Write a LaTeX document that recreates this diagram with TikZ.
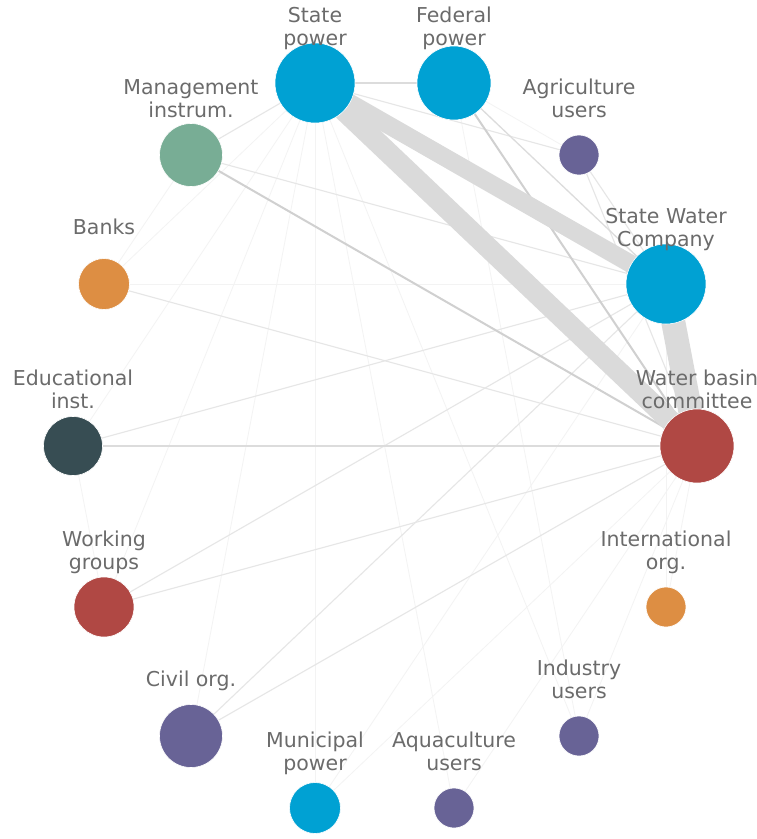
\documentclass[tikz,border=0pt]{standalone}
\usepackage{fontspec}
\setmainfont{DejaVu Sans}
\usetikzlibrary{backgrounds}
\definecolor{cblue}{HTML}{00A1D3}
\definecolor{cgreen}{HTML}{78AD95}
\definecolor{corange}{HTML}{DD8E43}
\definecolor{cdark}{HTML}{374D53}
\definecolor{cred}{HTML}{B04844}
\definecolor{cpurple}{HTML}{686396}
\definecolor{ctext}{HTML}{6B6B6B}
\definecolor{cheavy}{HTML}{DADADA}
\definecolor{cmed}{HTML}{D0D0D0}
\definecolor{cmlight}{HTML}{DCDCDC}
\definecolor{clight}{HTML}{E6E6E6}
\definecolor{cfaint}{HTML}{F3F3F3}
\begin{document}
\begin{tikzpicture}[x=1pt,y=-1pt,
  nd/.style={circle,inner sep=0pt,minimum size=#1,draw=white,line width=0.6pt},
  lbl/.style={text=ctext,font=\fontsize{20.5}{23}\selectfont,align=center,inner sep=0pt},
  heavy/.style={draw=cheavy,line width=#1},
  emed/.style={draw=cmed,line width=2pt},
  emlight/.style={draw=cmlight,line width=1.3pt},
  elight/.style={draw=clight,line width=1.1pt},
  efaint/.style={draw=cfaint,line width=0.8pt}]
\useasboundingbox (0,0) rectangle (756,839);

% nodes
\node[nd=80pt,fill=cblue]   (sp)  at (315,83)  {};
\node[nd=74pt,fill=cblue]   (fp)  at (454,83)  {};
\node[nd=40pt,fill=cpurple] (ag)  at (579,155) {};
\node[nd=80pt,fill=cblue]   (swc) at (666,284) {};
\node[nd=74pt,fill=cred]    (wbc) at (697,446) {};
\node[nd=40pt,fill=corange] (io)  at (666,607) {};
\node[nd=40pt,fill=cpurple] (iu)  at (579,736) {};
\node[nd=40pt,fill=cpurple] (aq)  at (454,808) {};
\node[nd=51pt,fill=cblue]   (mp)  at (315,808) {};
\node[nd=63pt,fill=cpurple] (co)  at (191,736) {};
\node[nd=60pt,fill=cred]    (wg)  at (104,607) {};
\node[nd=59pt,fill=cdark]   (ed)  at (73,446)  {};
\node[nd=51pt,fill=corange] (bk)  at (104,284) {};
\node[nd=63pt,fill=cgreen]  (mi)  at (191,155) {};

% labels
\node[lbl] (spL)  at (315,29)  {\strut State\\\strut power};
\node[lbl] (fpL)  at (454,29)  {\strut Federal\\\strut power};
\node[lbl] (agL)  at (579,101) {\strut Agriculture\\\strut users};
\node[lbl] (swcL) at (666,230) {\strut State Water\\\strut Company};
\node[lbl] (wbcL) at (697,392) {\strut Water basin\\\strut committee};
\node[lbl] (ioL)  at (666,553) {\strut International\\\strut org.};
\node[lbl] (iuL)  at (579,682) {\strut Industry\\\strut users};
\node[lbl] (aqL)  at (454,754) {\strut Aquaculture\\\strut users};
\node[lbl] (mpL)  at (315,754) {\strut Municipal\\\strut power};
\node[lbl] (coL)  at (191,682) {\strut Civil org.};
\node[lbl] (wgL)  at (104,553) {\strut Working\\\strut groups};
\node[lbl] (edL)  at (73,392)  {\strut Educational\\\strut inst.};
\node[lbl] (bkL)  at (104,230) {\strut Banks};
\node[lbl] (miL)  at (191,101) {\strut Management\\\strut instrum.};

\begin{pgfonlayer}{background}
\fill[white] (0,0) rectangle (756,839);
% faint
\foreach \a/\b in {bk/swc,sp/bk,sp/ed,sp/wg,sp/co,sp/mp,sp/iu,sp/aq,ed/wg,mp/wbc,mp/swc,fp/iu,aq/wbc,iu/wbc,io/wbc,io/swc,mi/bk,fp/ag}
  \draw[efaint] (\a.center) -- (\b.center);
% light
\foreach \a/\b in {mi/swc,bk/wbc,ed/swc,wg/wbc,wg/swc,co/wbc,co/swc,mi/sp,sp/ag,ag/wbc,ag/swc}
  \draw[elight] (\a.center) -- (\b.center);
% medium-light
\foreach \a/\b in {fp/swc,sp/fp,ed/wbc}
  \draw[emlight] (\a.center) -- (\b.center);
% medium
\foreach \a/\b in {mi/wbc,fp/wbc}
  \draw[emed] (\a.center) -- (\b.center);
% heavy
\draw[heavy=18pt] (sp.center) -- (swc.center);
\draw[heavy=21pt] (sp.center) -- (wbc.center);
\draw[heavy=24pt] (swc.center) -- (wbc.center);
\end{pgfonlayer}
\end{tikzpicture}
\end{document}
